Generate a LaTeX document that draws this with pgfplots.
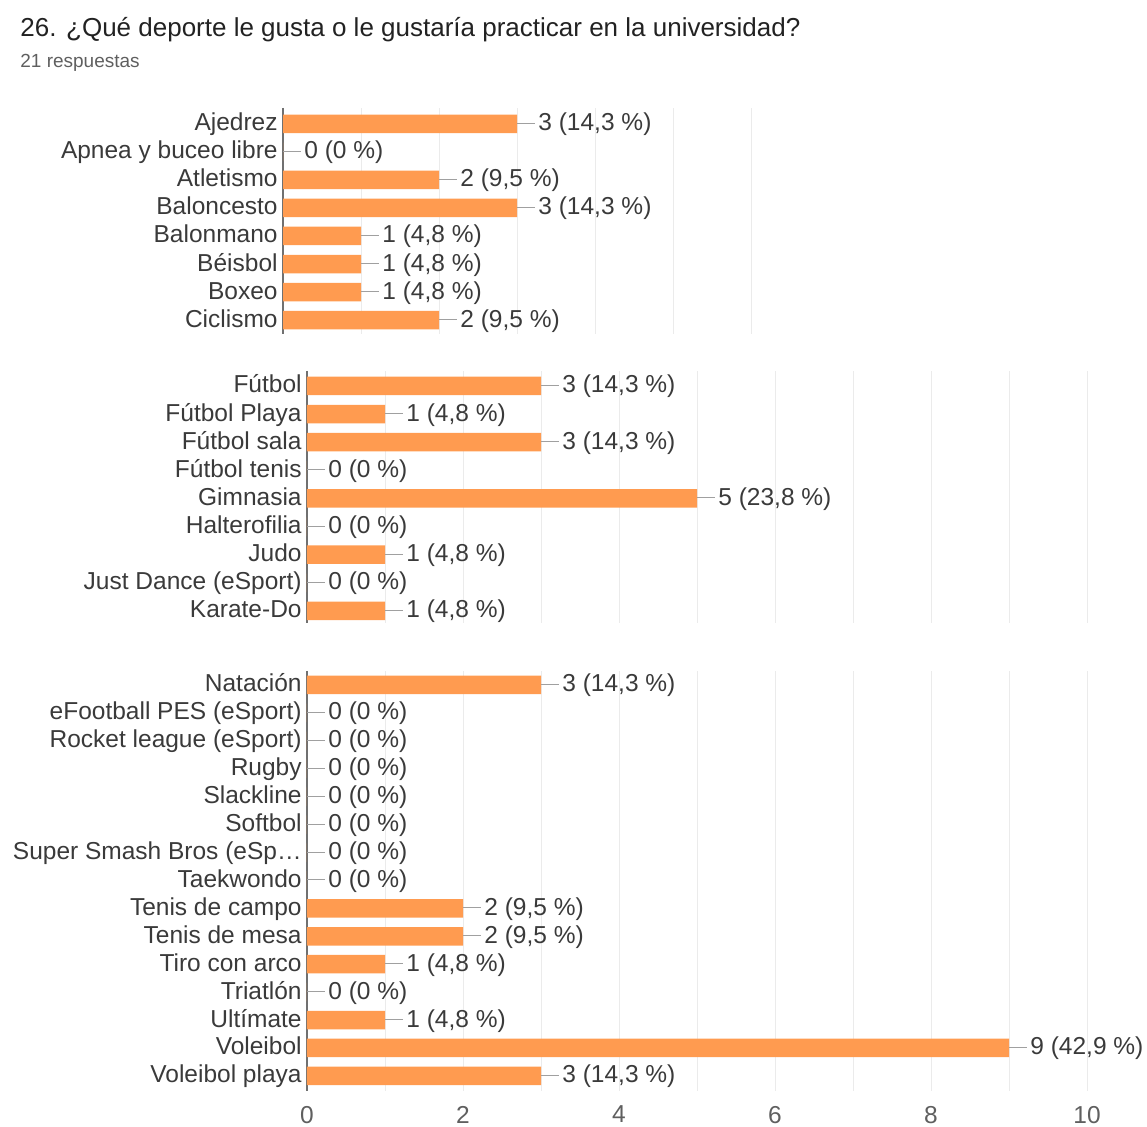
\documentclass[border=0pt]{standalone}
\usepackage{pgfplots}
\pgfplotsset{compat=1.18}
\usepackage{fontspec}
\setmainfont{Liberation Sans}
\definecolor{barc}{HTML}{FF9B50}
\definecolor{gridc}{HTML}{EBEBEB}
\definecolor{axc}{HTML}{707070}
\definecolor{conc}{HTML}{A0A0A0}
\definecolor{txt}{HTML}{3A3A3A}
\definecolor{titlec}{HTML}{222222}
\definecolor{subc}{HTML}{5F5F5F}
\pgfplotsset{
  panel/.style={
    scale only axis,
    xbar, bar width=9.25pt, bar shift=0pt,
    y dir=reverse,
    xmin=0,
    axis line style={draw=none},
    tick style={draw=none},
    major tick length=0pt, minor tick length=0pt,
    xmajorgrids, xminorgrids,
    grid style={gridc, line width=0.5pt},
    major grid style={gridc, line width=0.5pt},
    minor grid style={gridc, line width=0.5pt},
    xtick={0,2,...,10}, minor xtick={1,3,...,9},
    yticklabel style={font=\fontsize{12.25}{14}\selectfont, text=txt, inner xsep=2.5pt, text height=9.5pt, text depth=2.5pt},
    xticklabel style={font=\fontsize{12.25}{14}\selectfont, text=subc, yshift=-4pt},
    /pgf/number format/assume math mode=true,
    extra x ticks={0},
    extra x tick labels={},
    extra x tick style={grid=major, major grid style={axc, line width=0.8pt}},
    point meta=explicit symbolic,
    nodes near coords={\textcolor{conc}{\rule[3.5pt]{9pt}{0.5pt}}\hspace{1.5pt}\pgfplotspointmeta},
    every node near coord/.append style={anchor=west, inner xsep=0pt, font=\fontsize{12.25}{14}\selectfont, text=txt, text height=9.5pt, text depth=2.5pt},
    clip=false,
  }
}
\begin{document}
\begin{tikzpicture}
\useasboundingbox (0,0) rectangle (573.5pt,-563.5pt);
\node[anchor=base west, inner sep=0pt, font=\fontsize{13}{15}\selectfont, text=titlec] at (10pt,-18.5pt) {26. ¿Qué deporte le gusta o le gustaría practicar en la universidad?};
\node[anchor=base west, inner sep=0pt, font=\fontsize{9.5}{11}\selectfont, text=subc] at (10pt,-34pt) {21 respuestas};

% Panel 1
\begin{axis}[panel, at={(141.5pt,-54pt)}, anchor=north west,
  width=263.5pt, height=113pt, xmax=6.756, ymin=-0.571, ymax=7.5,
  xticklabels={},
  ytick={0,...,7},
  yticklabels={Ajedrez, Apnea y buceo libre, Atletismo, Baloncesto, Balonmano, Béisbol, Boxeo, Ciclismo}]
\addplot[fill=barc, draw=none] coordinates {
  (3,0) [3 (14,3 \%)]
  (0,1) [0 (0 \%)]
  (2,2) [2 (9,5 \%)]
  (3,3) [3 (14,3 \%)]
  (1,4) [1 (4,8 \%)]
  (1,5) [1 (4,8 \%)]
  (1,6) [1 (4,8 \%)]
  (2,7) [2 (9,5 \%)]
};
\end{axis}

% Panel 2
\begin{axis}[panel, at={(153.5pt,-185.5pt)}, anchor=north west,
  width=390pt, height=126pt, xmax=10, ymin=-0.53, ymax=8.43,
  xticklabels={},
  ytick={0,...,8},
  yticklabels={Fútbol, Fútbol Playa, Fútbol sala, Fútbol tenis, Gimnasia, Halterofilia, Judo, Just Dance (eSport), Karate-Do}]
\addplot[fill=barc, draw=none] coordinates {
  (3,0) [3 (14,3 \%)]
  (1,1) [1 (4,8 \%)]
  (3,2) [3 (14,3 \%)]
  (0,3) [0 (0 \%)]
  (5,4) [5 (23,8 \%)]
  (0,5) [0 (0 \%)]
  (1,6) [1 (4,8 \%)]
  (0,7) [0 (0 \%)]
  (1,8) [1 (4,8 \%)]
};
\end{axis}

% Panel 3
\begin{axis}[panel, at={(153.5pt,-335.5pt)}, anchor=north west,
  width=390pt, height=210pt, xmax=10, ymin=-0.5, ymax=14.54,
  ytick={0,...,14},
  yticklabels={Natación, eFootball PES (eSport), Rocket league (eSport), Rugby, Slackline, Softbol, Super Smash Bros (eSp…, Taekwondo, Tenis de campo, Tenis de mesa, Tiro con arco, Triatlón, Ultímate, Voleibol, Voleibol playa}]
\addplot[fill=barc, draw=none] coordinates {
  (3,0) [3 (14,3 \%)]
  (0,1) [0 (0 \%)]
  (0,2) [0 (0 \%)]
  (0,3) [0 (0 \%)]
  (0,4) [0 (0 \%)]
  (0,5) [0 (0 \%)]
  (0,6) [0 (0 \%)]
  (0,7) [0 (0 \%)]
  (2,8) [2 (9,5 \%)]
  (2,9) [2 (9,5 \%)]
  (1,10) [1 (4,8 \%)]
  (0,11) [0 (0 \%)]
  (1,12) [1 (4,8 \%)]
  (9,13) [9 (42,9 \%)]
  (3,14) [3 (14,3 \%)]
};
\end{axis}
\end{tikzpicture}
\end{document}
